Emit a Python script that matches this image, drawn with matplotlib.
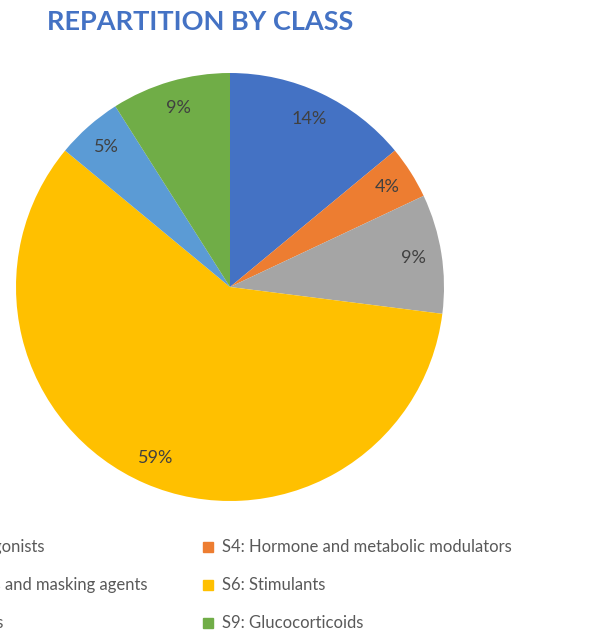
import matplotlib
matplotlib.use("Agg")
import matplotlib.pyplot as plt
from matplotlib.patches import Rectangle

categories = ["S3: Beta-2 agonists", "S4: Hormone and metabolic modulators",
              "S5: Diuretics and masking agents", "S6: Stimulants",
              "S8: Cannabinoids", "S9: Glucocorticoids"]
values = [14, 4, 9, 59, 5, 9]
colors = ["#4472C4", "#ED7D31", "#A5A5A5", "#FFC000", "#5B9BD5", "#70AD47"]
title = "REPARTITION BY CLASS"

W, H = 602, 633
fig = plt.figure(figsize=(W / 100, H / 100), dpi=100)
fig.patch.set_facecolor("white")

cx, cy, R = 230, 287, 214
ax = fig.add_axes([(cx - R) / W, (H - cy - R) / H, 2 * R / W, 2 * R / H])
wedges, texts, autotexts = ax.pie(
    values, colors=colors, startangle=90, counterclock=False,
    autopct="%1.0f%%", pctdistance=0.87, radius=1,
    textprops=dict(color="#404040", fontsize=13, family="Lato"),
    wedgeprops=dict(linewidth=0))
ax.set_xlim(-1, 1)
ax.set_ylim(-1, 1)
ax.set_aspect("equal")
ax.axis("off")

fig.text(200 / W, 1 - 22 / H, title, ha="center", va="center",
         fontsize=19.5, fontweight="bold", color="#4472C4", family="Lato")

# legend, two columns (left column runs off the left edge as in the reference)
rows_y = [547, 585, 623]
left_end = [45, 147, 3]
fs = 12
for i, (lab, col) in enumerate(zip(categories, colors)):
    r = i // 2
    y = 1 - rows_y[r] / H
    if i % 2 == 1:
        fig.patches.append(Rectangle(((208 - 5) / W, y - 5 / H), 10 / W, 10 / H,
                                     transform=fig.transFigure, color=col))
        fig.text(222 / W, y, lab, ha="left", va="center", fontsize=fs,
                 color="#595959", family="Lato")
    else:
        fig.text(left_end[r] / W, y, lab, ha="right", va="center",
                 fontsize=fs, color="#595959", family="Lato")

fig.savefig("out.png", dpi=100, facecolor="white")
